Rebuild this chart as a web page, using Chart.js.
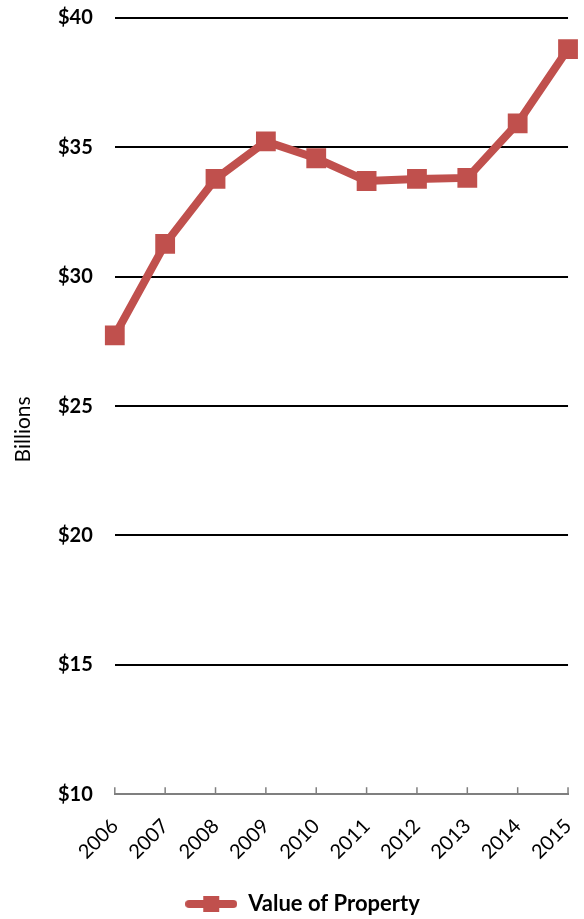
<!DOCTYPE html>
<html>
<head>
<meta charset="utf-8">
<script src="https://cdn.jsdelivr.net/npm/chart.js@4/dist/chart.umd.min.js"></script>
<style>
  html, body { margin: 0; padding: 0; background: #fff; overflow: hidden; }
  #wrap { width: 584px; height: 919px; overflow: hidden; position: relative; }
  #chart { position: absolute; left: 0; top: -16px; }
</style>
</head>
<body>
<div id="wrap"><canvas id="chart" width="605" height="941"></canvas></div>
<script>
const years = ['2006', '2007', '2008', '2009', '2010', '2011', '2012', '2013', '2014', '2015'];
const propertyValue = [27.73, 31.27, 33.78, 35.23, 34.58, 33.70, 33.78, 33.82, 35.93, 38.80];
const yTicks = [10, 15, 20, 25, 30, 35, 40];
const yTitle = 'Billions';

const RED = '#c0504d';
const FONT = 'Lato, "Open Sans", sans-serif';

// legend marker: short line with a square in the middle
function legendMarker() {
  const c = document.createElement('canvas');
  c.width = 52; c.height = 18;
  const g = c.getContext('2d');
  g.strokeStyle = RED;
  g.lineWidth = 8;
  g.lineCap = 'round';
  g.beginPath(); g.moveTo(4, 9); g.lineTo(48, 9); g.stroke();
  g.fillStyle = RED;
  g.fillRect(18, 1, 16, 16);
  return c;
}

// Excel-style tick marks pointing up from the category axis, plus the axis title
const extras = {
  id: 'extras',
  afterDraw(chart) {
    const x = chart.scales.x;
    const ctx = chart.ctx;
    const area = chart.chartArea;
    ctx.save();
    ctx.strokeStyle = '#7f7f7f';
    ctx.lineWidth = 1.5;
    for (let i = 0; i < x.ticks.length; i++) {
      const px = x.getPixelForTick(i);
      ctx.beginPath();
      ctx.moveTo(px, area.bottom - 7);
      ctx.lineTo(px, area.bottom);
      ctx.stroke();
    }
    // "Billions" sits a little below the middle, as in the original
    ctx.translate(23, chart.scales.y.getPixelForValue(24.1));
    ctx.rotate(-Math.PI / 2);
    ctx.fillStyle = '#000';
    ctx.font = '21px ' + FONT;
    ctx.textAlign = 'center';
    ctx.textBaseline = 'middle';
    ctx.fillText(yTitle, 0, 0);
    ctx.restore();
  }
};

new Chart(document.getElementById('chart').getContext('2d'), {
  type: 'line',
  data: {
    labels: years,
    datasets: [{
      label: 'Value of Property',
      data: propertyValue,
      borderColor: RED,
      backgroundColor: RED,
      borderWidth: 8,
      tension: 0,
      pointStyle: 'rect',
      pointRadius: 14,
      pointHoverRadius: 14,
      pointBorderWidth: 0,
      pointBackgroundColor: RED
    }]
  },
  options: {
    responsive: false,
    animation: false,
    layout: { padding: { left: 36, right: 36, top: 0, bottom: 0 } },
    plugins: {
      tooltip: { enabled: false },
      legend: {
        position: 'bottom',
        labels: {
          usePointStyle: true,
          pointStyleWidth: 52,
          color: '#000',
          font: { family: FONT, size: 22, weight: 'bold' },
          padding: 9,
          generateLabels(chart) {
            const items = Chart.defaults.plugins.legend.labels.generateLabels(chart);
            items.forEach(it => { it.pointStyle = legendMarker(); });
            return items;
          }
        }
      }
    },
    scales: {
      x: {
        offset: false,
        grid: { display: false, drawTicks: false },
        border: { display: true, color: '#7f7f7f', width: 2 },
        ticks: {
          color: '#000',
          font: { family: FONT, size: 20 },
          minRotation: 45,
          maxRotation: 45,
          padding: 20
        }
      },
      y: {
        min: 10,
        max: 40,
        afterBuildTicks(scale) { scale.ticks = yTicks.map(v => ({ value: v })); },
        grid: {
          color: c => (c.tick && c.tick.value === 10 ? 'rgba(0,0,0,0)' : '#000'),
          lineWidth: 2,
          drawTicks: false
        },
        border: { display: false },
        ticks: {
          color: '#000',
          font: { family: FONT, size: 20, weight: 'bold' },
          padding: 22,
          callback: v => '$' + v
        }
      }
    }
  },
  plugins: [extras]
});
</script>
</body>
</html>
